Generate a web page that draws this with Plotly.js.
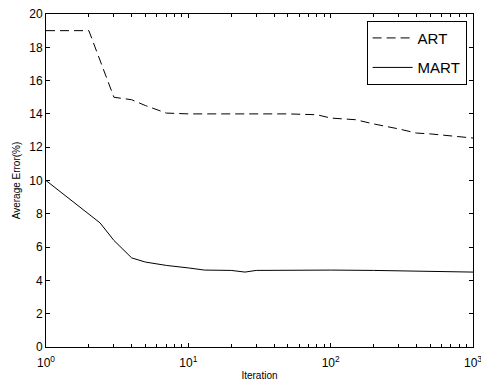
<!DOCTYPE html>
<html><head><meta charset="utf-8">
<script src="https://cdn.plot.ly/plotly-3.0.1.min.js"></script>
<style>html,body{margin:0;padding:0;background:#fff}</style>
</head><body><div id="c" style="width:481px;height:387px"></div>
<script>
const artIter = [1, 2, 3, 4, 5, 7, 10, 20, 50, 80, 100, 150, 200, 300, 400, 500, 700, 1000];
const artErr  = [19, 19, 15, 14.85, 14.5, 14.05, 14.0, 14.0, 14.0, 13.95, 13.75, 13.65, 13.4, 13.1, 12.85, 12.8, 12.7, 12.55];
const martIter = [1, 2, 2.4, 3, 4, 5, 7, 10, 13, 20, 25, 30, 50, 100, 200, 500, 1000];
const martErr  = [10, 8.0, 7.45, 6.4, 5.35, 5.1, 4.9, 4.75, 4.62, 4.6, 4.5, 4.6, 4.62, 4.62, 4.6, 4.55, 4.5];
const xTickVals = [1, 10, 100, 1000];
const xTickText = ['10<sup>0</sup>', '10<sup>1</sup>', '10<sup>2</sup>', '10<sup>3</sup>'];
const yTickVals = [0, 2, 4, 6, 8, 10, 12, 14, 16, 18, 20];

const traces = [
  {x: artIter, y: artErr, name: 'ART', legendgroup: 'a', mode: 'lines', line: {color: '#000', width: 1, dash: '9px,5px'}},
  {x: martIter, y: martErr, name: 'MART', legendgroup: 'b', mode: 'lines', line: {color: '#000', width: 1}}
];
const font = {family: 'Liberation Sans, Arial, sans-serif', color: '#000', size: 12};
const layout = {
  width: 481, height: 387,
  margin: {l: 46, r: 8, t: 14, b: 40},
  paper_bgcolor: '#fff', plot_bgcolor: '#fff',
  font: font,
  showlegend: true,
  legend: {x: 0.985, y: 0.98, xanchor: 'right', yanchor: 'top', bordercolor: '#000', borderwidth: 1,
           bgcolor: '#fff', font: {family: font.family, size: 15, color: '#000'},
           traceorder: 'grouped', tracegroupgap: 7, itemwidth: 40},
  xaxis: {type: 'log', range: [0, 3], tickvals: xTickVals, ticktext: xTickText,
          ticks: 'inside', ticklen: 4, tickcolor: '#000', mirror: 'ticks', showline: true, linecolor: '#000', linewidth: 1,
          showgrid: false, zeroline: false, ticklabelstandoff: 5, ticklabeloverflow: 'allow',
          minor: {ticks: 'inside', ticklen: 3, tickcolor: '#000', tickvals: [2,3,4,5,6,7,8,9,20,30,40,50,60,70,80,90,200,300,400,500,600,700,800,900]},
          title: {text: 'Iteration', font: {size: 10}, standoff: 2}},
  yaxis: {range: [0, 20], tickvals: yTickVals, ticks: 'inside', ticklen: 4, tickcolor: '#000',
          mirror: 'ticks', showline: true, linecolor: '#000', linewidth: 1, showgrid: false, zeroline: false,
          title: {text: 'Average Error(%)', font: {size: 10}, standoff: 6}}
};
Plotly.newPlot('c', traces, layout, {displayModeBar: false, staticPlot: true});
</script></body></html>
